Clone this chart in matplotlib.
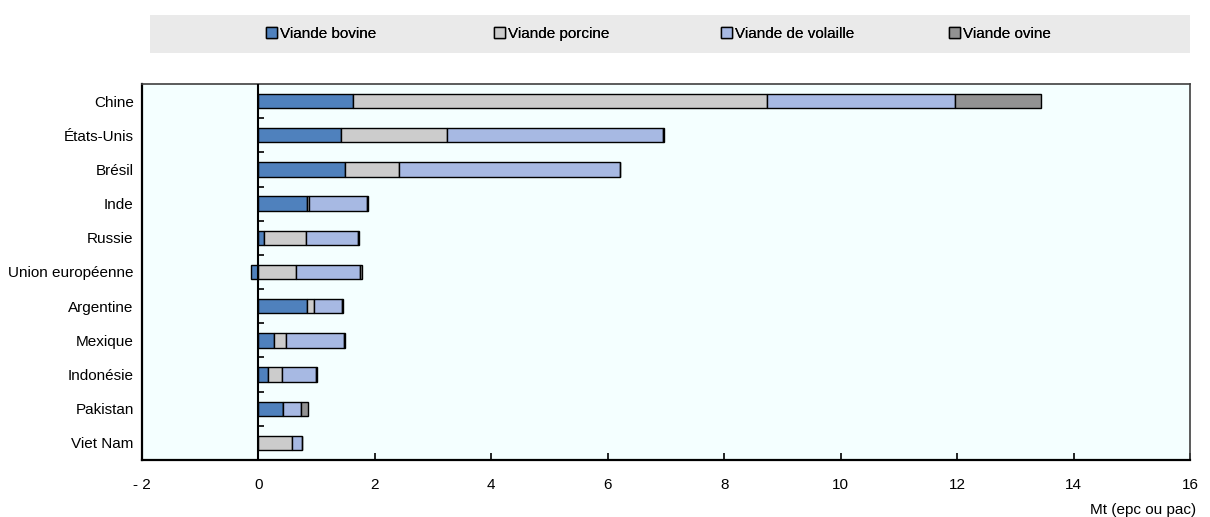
import numpy as np
import matplotlib
matplotlib.use("Agg")
import matplotlib.pyplot as plt
from matplotlib.patches import Patch, Rectangle

plt.rcParams['font.family'] = ['Liberation Sans', 'DejaVu Sans']

# données (Mt epc ou pac)
pays = ["Chine", "États-Unis", "Brésil", "Inde", "Russie", "Union européenne",
        "Argentine", "Mexique", "Indonésie", "Pakistan", "Viet Nam"]
bovine = [1.63, 1.42, 1.49, 0.84, 0.09, -0.13, 0.84, 0.27, 0.17, 0.43, 0.00]
porcine = [7.10, 1.82, 0.92, 0.03, 0.73, 0.64, 0.12, 0.20, 0.23, 0.00, 0.58]
volaille = [3.23, 3.70, 3.80, 0.99, 0.89, 1.11, 0.48, 1.00, 0.59, 0.30, 0.16]
ovine = [1.48, 0.02, 0.00, 0.03, 0.01, 0.03, 0.01, 0.01, 0.01, 0.12, 0.00]

series = [("Viande bovine", bovine, "#4F81BD"),
          ("Viande porcine", porcine, "#CCCCCC"),
          ("Viande de volaille", volaille, "#A7B9E3"),
          ("Viande ovine", ovine, "#929292")]

xticks = [-2, 0, 2, 4, 6, 8, 10, 12, 14, 16]
xlabels = ["- 2", "0", "2", "4", "6", "8", "10", "12", "14", "16"]

fig = plt.figure(figsize=(12.1, 5.17), dpi=100)
ax = fig.add_axes([142 / 1210, 1 - 460 / 517, 1048 / 1210, 376 / 517])
ax.set_facecolor("#F4FFFF")

y = np.arange(len(pays))
left = np.zeros(len(pays))
handles = []
for name, vals, col in series:
    v = np.array(vals)
    start = np.where(v >= 0, left, 0)
    ax.barh(y, v, left=start, height=0.42, color=col, edgecolor="black",
            linewidth=1.0, zorder=3)
    left = left + np.clip(v, 0, None)
    handles.append(Patch(facecolor=col, edgecolor="black", linewidth=1.0, label=name))

ax.set_xlim(-2, 16)
ax.set_ylim(len(pays) - 0.5, -0.5)
ax.axvline(0, color="black", linewidth=1.5, zorder=4)
# petits traits entre les catégories sur l'axe zéro
ax.hlines(y[:-1] + 0.5, 0, 0.1, color="black", linewidth=1.2, zorder=4)

ax.set_yticks(y)
ax.set_yticklabels(pays, fontsize=11)
ax.tick_params(axis="y", length=0, pad=6)
ax.set_xticks(xticks)
ax.set_xticklabels(xlabels, fontsize=11)
ax.tick_params(axis="x", direction="in", length=5, width=1.2, pad=13)

for s in ["left", "bottom"]:
    ax.spines[s].set_linewidth(1.6)
    ax.spines[s].set_color("black")
for s in ["top", "right"]:
    ax.spines[s].set_linewidth(1.2)
    ax.spines[s].set_color("#404040")

fig.text(1196 / 1210, 1 - 510 / 517, "Mt (epc ou pac)", ha="right", va="center", fontsize=11)

# légende dans un bandeau gris, une entrée par colonne régulière
fig.patches.append(Rectangle((150 / 1210, 1 - 53 / 517), 1040 / 1210, 38 / 517,
                             transform=fig.transFigure, facecolor="#EAEAEA",
                             edgecolor="none", zorder=0))
leg_x = [266, 494, 721, 949]
for h, lx in zip(handles, leg_x):
    lg = fig.legend(handles=[h], loc="center left", bbox_to_anchor=(lx / 1210, 1 - 34 / 517),
                    frameon=False, fontsize=11, handlelength=0.7, handleheight=0.7,
                    handletextpad=0.2, borderpad=0, borderaxespad=0)
    fig.add_artist(lg)

fig.savefig("out.png", dpi=100)
